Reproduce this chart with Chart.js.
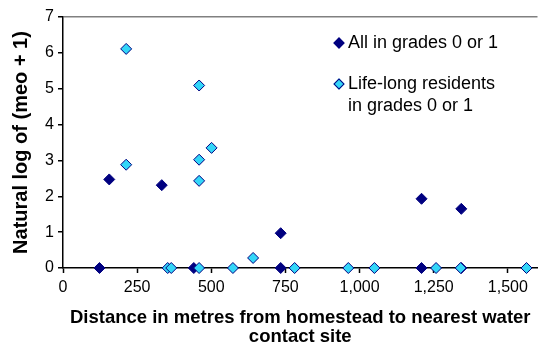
<!DOCTYPE html>
<html>
<head>
<meta charset="utf-8">
<script src="https://cdn.jsdelivr.net/npm/chart.js@4"></script>
<style>
  html, body { margin: 0; padding: 0; background: #fff; }
  #wrap { position: relative; width: 544px; height: 345px; }
  #legend { position: absolute; left: 333px; top: 31px; font-family: "Liberation Sans", Arial, sans-serif; font-size: 18px; color: #000; line-height: 22px; }
  #legend .item { position: relative; padding-left: 15px; margin-bottom: 19px; }
  #legend .mk { position: absolute; left: 2px; top: 8px; width: 6px; height: 6px; transform: rotate(45deg); border: 1px solid #000080; }
</style>
</head>
<body>
<div id="wrap">
  <canvas id="chart" width="544" height="345"></canvas>
  <div id="legend">
    <div class="item"><span class="mk" style="background:#000080"></span>All in grades 0 or 1</div>
    <div class="item"><span class="mk" style="background:#33d6f8"></span>Life-long residents<br>in grades 0 or 1</div>
  </div>
</div>
<script>
// distance (m) vs ln(meo + 1)
const allX  = [123, 156, 333, 441, 734, 734, 1209, 1209, 1343, 1343];
const allY  = [0, 2.47, 2.31, 0, 0.97, 0, 1.93, 0, 1.65, 0];
const lifeX = [213, 213, 353, 365, 459, 459, 459, 459, 501, 573, 641, 781, 962, 1050, 1258, 1341, 1563];
const lifeY = [6.11, 2.88, 0, 0, 5.09, 3.02, 2.43, 0, 3.35, 0, 0.28, 0, 0, 0, 0, 0, 0];
const xTicks = [0, 250, 500, 750, 1000, 1250, 1500];
const yTicks = [0, 1, 2, 3, 4, 5, 6, 7];

const toPts = (xs, ys) => xs.map((x, i) => ({ x, y: ys[i] }));
const FONT = '"Liberation Sans", Arial, sans-serif';

new Chart(document.getElementById('chart'), {
  type: 'scatter',
  data: {
    datasets: [
      { label: 'All in grades 0 or 1', data: toPts(allX, allY), order: 1,
        pointStyle: 'rectRot', pointRadius: 5.5, backgroundColor: '#000080', borderColor: '#000080', borderWidth: 1, clip: false },
      { label: 'Life-long residents in grades 0 or 1', data: toPts(lifeX, lifeY), order: 0,
        pointStyle: 'rectRot', pointRadius: 5.5, backgroundColor: '#33d6f8', borderColor: '#000080', borderWidth: 1, clip: false }
    ]
  },
  options: {
    responsive: false,
    animation: false,
    layout: { padding: { top: 17, left: 0, right: 0, bottom: 0 } },
    plugins: { legend: { display: false }, tooltip: { enabled: false } },
    scales: {
      x: {
        type: 'linear', min: 0, max: 1600,
        afterBuildTicks: s => { s.ticks = xTicks.map(v => ({ value: v })); },
        afterFit: s => { s.height = 77; },
        border: { color: '#000', width: 1.5 },
        grid: { drawOnChartArea: false, tickLength: 5, tickColor: '#000', tickWidth: 1.5 },
        ticks: { color: '#000', font: { family: FONT, size: 16 }, padding: 5, maxRotation: 0 },
        title: { display: true, text: ['Distance in metres from homestead to nearest water', 'contact site'],
          color: '#000', font: { family: FONT, size: 18.5, weight: 'bold', lineHeight: 1.05 }, padding: { top: 4, bottom: -2 } }
      },
      y: {
        type: 'linear', min: 0, max: 7,
        afterBuildTicks: s => { s.ticks = yTicks.map(v => ({ value: v })); },
        afterFit: s => { s.width = 63; },
        border: { color: '#000', width: 1.5 },
        grid: { color: c => c.tick && c.tick.value === 7 ? '#808080' : 'rgba(0,0,0,0)', lineWidth: 1.5,
          tickLength: 5, tickColor: '#000', tickWidth: 1.5 },
        ticks: { color: '#000', font: { family: FONT, size: 16 }, padding: 4 },
        title: { display: true, text: 'Natural log of (meo + 1)', color: '#000',
          font: { family: FONT, size: 20, weight: 'bold', lineHeight: 1.2 }, padding: { top: 9.5, bottom: 0 } }
      }
    }
  }
});
</script>
</body>
</html>
